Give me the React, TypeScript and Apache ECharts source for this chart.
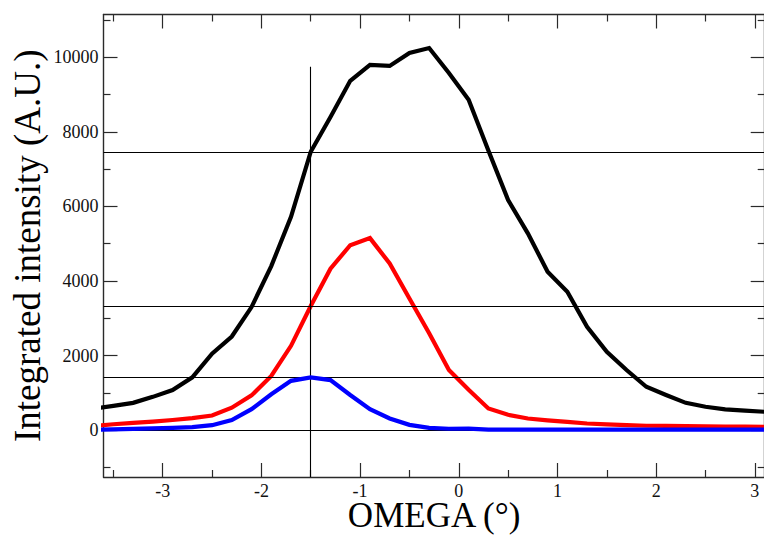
import React, { useEffect, useRef } from "react";
import * as echarts from "echarts";

const omega = [
  -3.7, -3.5, -3.3, -3.1, -2.9, -2.7, -2.5, -2.3, -2.1, -1.9, -1.7, -1.5,
  -1.3, -1.1, -0.9, -0.7, -0.5, -0.3, -0.1, 0.1, 0.3, 0.5, 0.7, 0.9, 1.1,
  1.3, 1.5, 1.7, 1.9, 2.1, 2.3, 2.5, 2.7, 2.9, 3.1,
];
const blackValues = [
  570, 650, 730, 890, 1073, 1414, 2050, 2510, 3300, 4400, 5720, 7467,
  8400, 9370, 9800, 9770, 10120, 10250, 9580, 8860, 7500, 6171, 5277, 4250, 3710,
  2770, 2100, 1610, 1160, 940, 730, 625, 555, 520, 490,
];
const redValues = [
  110, 155, 190, 225, 270, 320, 390, 600, 930, 1450, 2260, 3327,
  4330, 4960, 5150, 4470, 3530, 2600, 1610, 1080, 580, 410, 310, 260, 220,
  175, 150, 130, 115, 110, 105, 100, 95, 90, 88,
];
const blueValues = [
  10, 20, 30, 45, 60, 80, 130, 270, 560, 960, 1320, 1414,
  1340, 940, 560, 310, 140, 60, 35, 40, 10, 10, 10, 10, 10,
  10, 10, 10, 10, 10, 10, 10, 10, 10, 10,
];
const horizontalRefs = [7467, 3327, 1414, 0];
const verticalRefX = -1.5;
const verticalRefTop = 9750;

const xMajor = [-3, -2, -1, 0, 1, 2, 3];
const xMinor = [-3.5, -2.5, -1.5, -0.5, 0.5, 1.5, 2.5];
const yMajor = [0, 2000, 4000, 6000, 8000, 10000];
const yMinor = [-1000, 1000, 3000, 5000, 7000, 9000, 11000];
const xRange = [-3.6, 3.1];
const yRange = [-1260, 11150];

const FONT = "Liberation Serif";
const FRAME = "#2a2a2a";
const LABEL_SIZE = 18;

export default function App() {
  const ref = useRef<HTMLDivElement>(null);
  useEffect(() => {
    document.body.style.margin = "0";
    const chart = echarts.init(ref.current!, null, { renderer: "svg" });
    const pair = (vals: number[]) => omega.map((x, i) => [x, vals[i]]);
    const fmt = (v: number) => String(v);

    const mkX = (pos: string, ticks: number[], len: number, main: boolean, labels: boolean) => ({
      type: "value",
      min: xRange[0],
      max: xRange[1],
      position: pos,
      axisLine: { show: main, onZero: false, lineStyle: { color: FRAME, width: 1.4 } },
      axisTick: { show: true, inside: true, length: len, customValues: ticks, lineStyle: { color: FRAME, width: 1.2 } },
      axisLabel: labels
        ? { show: true, customValues: xMajor, formatter: fmt, margin: 5, color: "#111", fontFamily: FONT, fontSize: LABEL_SIZE }
        : { show: false },
      splitLine: { show: false },
      ...(labels
        ? {
            name: "OMEGA (°)",
            nameLocation: "middle",
            nameGap: 21,
            nameMoveOverlap: false,
            nameTextStyle: { fontFamily: FONT, fontSize: 35, color: "#000" },
          }
        : {}),
    });
    const mkY = (pos: string, ticks: number[], len: number, main: boolean, labels: boolean) => ({
      type: "value",
      min: yRange[0],
      max: yRange[1],
      position: pos,
      axisLine: { show: main, onZero: false, lineStyle: { color: FRAME, width: 1.4 } },
      axisTick: { show: true, inside: true, length: len, customValues: ticks, lineStyle: { color: FRAME, width: 1.2 } },
      axisLabel: labels
        ? { show: true, customValues: yMajor, formatter: fmt, margin: 5, color: "#111", fontFamily: FONT, fontSize: LABEL_SIZE }
        : { show: false },
      splitLine: { show: false },
      ...(labels
        ? {
            name: "Integrated intensity (A.U.)",
            nameLocation: "middle",
            nameGap: 58,
            nameMoveOverlap: false,
            nameTextStyle: { fontFamily: FONT, fontSize: 37, color: "#000" },
          }
        : {}),
    });

    const lineSeries = (name: string, vals: number[], color: string, z: number) => ({
      type: "line",
      name,
      data: pair(vals),
      showSymbol: false,
      symbol: "none",
      clip: true,
      z,
      lineStyle: { color, width: 4.2, join: "miter" },
    });

    chart.setOption({
      animation: false,
      backgroundColor: "#fff",
      textStyle: { fontFamily: FONT },
      grid: {
        left: 103.5,
        right: -0.7,
        top: 14.5,
        bottom: 58,
        containLabel: false,
        outerBoundsMode: "none",
      },
      xAxis: [
        mkX("bottom", xMajor, 14, true, true),
        mkX("bottom", xMinor, 7, false, false),
        mkX("top", xMajor, 14, true, false),
        mkX("top", xMinor, 7, false, false),
      ],
      yAxis: [
        mkY("left", yMajor, 14, true, true),
        mkY("left", yMinor, 7, false, false),
        mkY("right", yMajor, 14, true, false),
        mkY("right", yMinor, 7, false, false),
      ],
      series: [
        {
          type: "line",
          data: [],
          z: 1,
          markLine: {
            silent: true,
            symbol: "none",
            animation: false,
            label: { show: false },
            lineStyle: { color: "#000", width: 1.1, type: "solid" },
            data: [
              ...horizontalRefs.map((v) => ({ yAxis: v })),
              [{ coord: [verticalRefX, yRange[0]] }, { coord: [verticalRefX, verticalRefTop] }],
            ],
          },
        },
        lineSeries("black", blackValues, "#000000", 3),
        lineSeries("red", redValues, "#ff0000", 4),
        lineSeries("blue", blueValues, "#0000ff", 5),
      ],
    });
    return () => chart.dispose();
  }, []);
  return (
    <div
      ref={ref}
      style={{ position: "fixed", left: 0, top: 0, width: 764, height: 535 }}
    />
  );
}
